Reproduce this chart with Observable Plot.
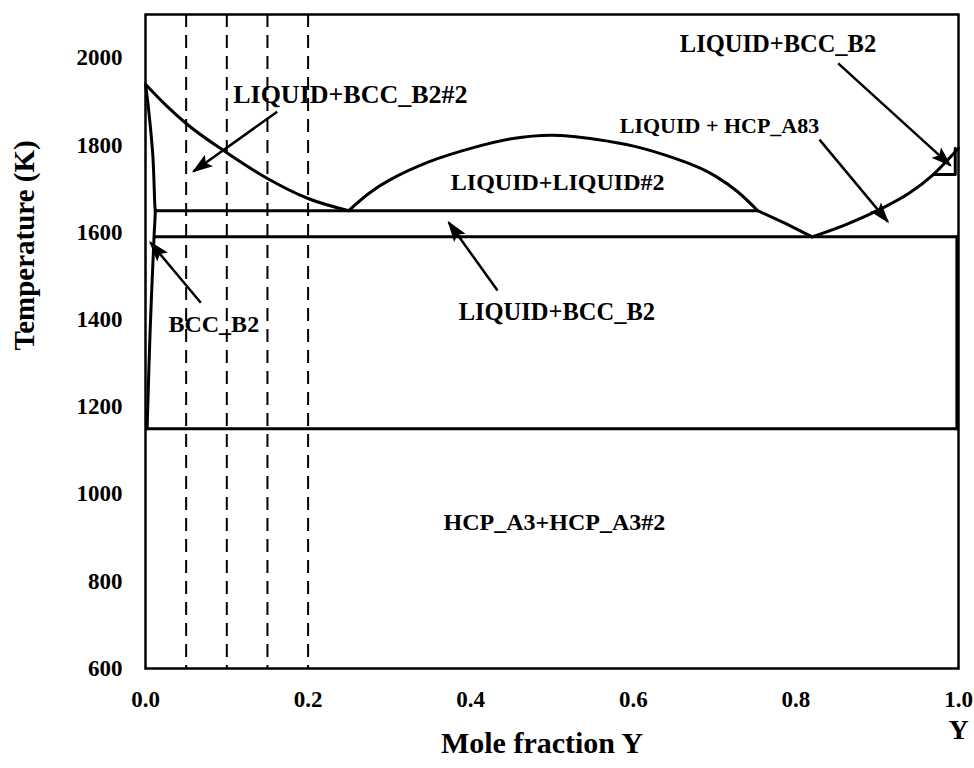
<!DOCTYPE html>
<html>
<head>
<meta charset="utf-8">
<script src="https://cdn.jsdelivr.net/npm/d3@7"></script>
<script src="https://cdn.jsdelivr.net/npm/@observablehq/plot@0.6"></script>
<style>
  html, body { margin: 0; padding: 0; background: #fff; }
</style>
</head>
<body>
<div id="chart"></div>
<script>
// Axis ticks
const xTicks = [0, 0.2, 0.4, 0.6, 0.8, 1.0];
const yTicks = [600, 800, 1000, 1200, 1400, 1600, 1800, 2000];

// Liquidus on the X-rich side, down to the monotectic
const liqLeftX = [0, 0.025, 0.05, 0.1, 0.15, 0.2, 0.25];
const liqLeftT = [1940, 1892, 1850, 1783, 1724, 1678, 1650];

// Liquid miscibility gap (LIQUID + LIQUID#2)
const domeX = [0.25, 0.275, 0.3, 0.35, 0.4, 0.45, 0.5, 0.553, 0.603, 0.653, 0.683, 0.703, 0.728, 0.753];
const domeT = [1650, 1690, 1720, 1763, 1793, 1815, 1823, 1814, 1797, 1769, 1747, 1727, 1694, 1650];

// Liquidus from the monotectic down to the eutectic
const liqMidX = [0.753, 0.787, 0.82];
const liqMidT = [1650, 1621, 1590];

// Liquidus of HCP rising towards pure Y
const liqRightX = [0.82, 0.86, 0.9, 0.94, 0.969, 1.0];
const liqRightT = [1590, 1617, 1650, 1691, 1733, 1793];

// BCC_B2 single-phase boundary near pure X
const bccX = [0, 0.0033, 0.009, 0.0115, 0.012, 0.0105, 0.0057, 0.002];
const bccT = [1940, 1891, 1777, 1662, 1650, 1590, 1375, 1150];

// Small LIQUID + BCC_B2 pocket near pure Y
const pocketX = [0.969, 0.996, 0.996];
const pocketT = [1733, 1733, 1793];

// HCP solvus next to pure Y
const solvusYX = [0.998, 0.998];
const solvusYT = [1590, 1150];

// Invariant reactions: temperature and composition span
const invT = [1650, 1590, 1150];
const invX1 = [0.012, 0.0105, 0];
const invX2 = [0.753, 1.0, 1.0];

// Alloy compositions marked by dashed verticals
const alloyX = [0.05, 0.1, 0.15, 0.2];

// Phase field labels
const labelText = ["LIQUID+BCC_B2#2", "LIQUID+LIQUID#2", "LIQUID + HCP_A83", "LIQUID+BCC_B2",
                   "LIQUID+BCC_B2", "BCC_B2", "HCP_A3+HCP_A3#2"];
const labelX = [0.252, 0.507, 0.706, 0.778, 0.506, 0.084, 0.503];
const labelT = [1916, 1715, 1845, 2033, 1417, 1389, 935];
const labelSize = [26, 24, 22, 24.5, 24.5, 24, 24];

// Leader arrows from labels to their phase fields
const arrowX1 = [0.162, 0.829, 0.852, 0.433, 0.068];
const arrowT1 = [1877, 1813, 1988, 1467, 1439];
const arrowX2 = [0.059, 0.913, 0.990, 0.373, 0.006];
const arrowT2 = [1740, 1625, 1754, 1623, 1577];

const pts = (X, T) => X.map((x, i) => ({x, t: T[i]}));
const inv = invT.map((t, i) => ({t, x1: invX1[i], x2: invX2[i]}));
const labels = labelText.map((s, i) => ({s, x: labelX[i], t: labelT[i], size: labelSize[i]}));
const arrows = arrowX1.map((x1, i) => ({x1, t1: arrowT1[i], x2: arrowX2[i], t2: arrowT2[i]}));

const W = 3;
const serif = "'Liberation Serif', 'Times New Roman', serif";

const chart = Plot.plot({
  width: 974,
  height: 768,
  marginLeft: 145,
  marginRight: 16,
  marginTop: 14,
  marginBottom: 100,
  style: {fontFamily: serif, fontWeight: "bold", fontSize: "23px", background: "#fff", color: "#000"},
  x: {domain: [0, 1], ticks: xTicks, tickFormat: d3.format(".1f"), tickSize: 0, tickPadding: 22, label: null},
  y: {domain: [600, 2100], ticks: yTicks, tickFormat: d3.format("d"), tickSize: 0, tickPadding: 23, label: null},
  marks: [
    Plot.line(pts(liqLeftX, liqLeftT), {x: "x", y: "t", curve: "monotone-x", strokeWidth: W}),
    Plot.line(pts(domeX, domeT), {x: "x", y: "t", curve: "catmull-rom", strokeWidth: W}),
    Plot.line(pts(liqMidX, liqMidT), {x: "x", y: "t", strokeWidth: W}),
    Plot.line(pts(liqRightX, liqRightT), {x: "x", y: "t", curve: "monotone-x", strokeWidth: W}),
    Plot.line(pts(bccX, bccT), {x: "x", y: "t", curve: "catmull-rom", strokeWidth: W}),
    Plot.line(pts(pocketX, pocketT), {x: "x", y: "t", strokeWidth: W}),
    Plot.line(pts(solvusYX, solvusYT), {x: "x", y: "t", strokeWidth: W}),
    Plot.ruleY(inv, {y: "t", x1: "x1", x2: "x2", strokeWidth: W}),
    ...labels.map(d => Plot.text([d], {x: "x", y: "t", text: "s", fontSize: d.size, fontWeight: "bold", fill: "#000"})),
    Plot.ruleX(alloyX, {strokeWidth: 2, strokeDasharray: "13,8"}),
    Plot.link(arrows, {x1: "x1", y1: "t1", x2: "x2", y2: "t2", strokeWidth: 2.5, markerEnd: "arrow"}),
    Plot.frame({strokeWidth: 2.5}),
    Plot.text(["Mole fraction Y"], {frameAnchor: "bottom", dx: -10, dy: 84, fontSize: 30, fontWeight: "bold"}),
    Plot.text(["Y"], {frameAnchor: "bottom-right", dy: 70, fontSize: 28, fontWeight: "bold", textAnchor: "middle"}),
    Plot.text(["Temperature (K)"], {frameAnchor: "left", dx: -121, dy: 9, rotate: -90, fontSize: 29, fontWeight: "bold"})
  ]
});

// Solid, filled arrowheads for the leader lines
d3.select(chart).selectAll("marker")
  .attr("viewBox", "-20 -8 23 16")
  .attr("markerUnits", "userSpaceOnUse")
  .attr("markerWidth", 23)
  .attr("markerHeight", 16)
  .attr("refX", 0)
  .attr("refY", 0)
  .attr("fill", "#000")
  .attr("stroke", "none")
  .selectAll("path")
  .attr("d", "M2,0L-19,-7L-15,0L-19,7Z");

document.getElementById("chart").append(chart);
</script>
</body>
</html>
